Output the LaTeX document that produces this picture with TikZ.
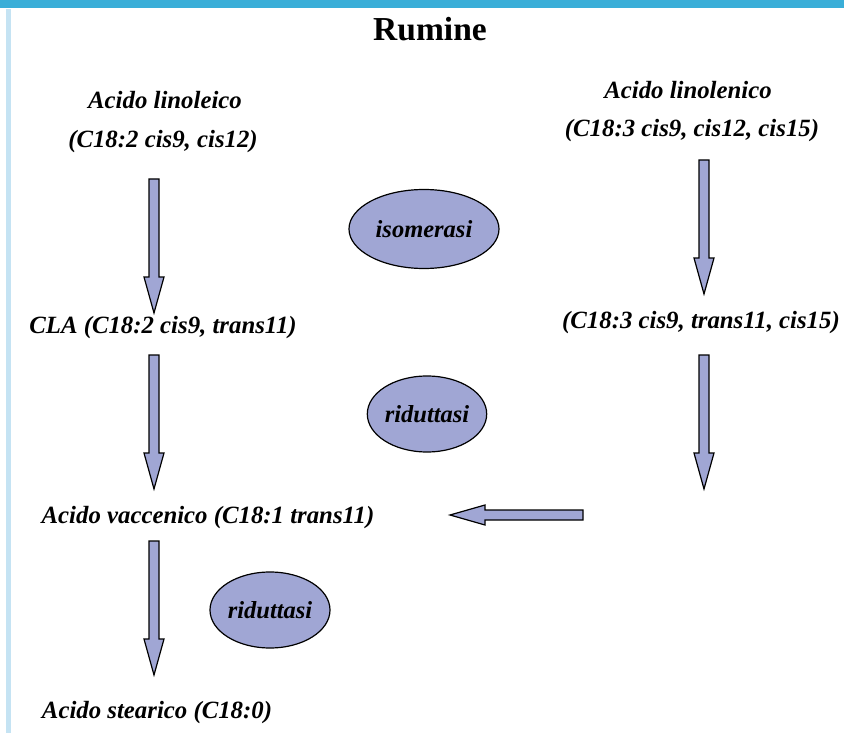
\documentclass[tikz,border=0pt]{standalone}
\usepackage{fontspec}
\setmainfont{Liberation Serif}
\usetikzlibrary{shapes.geometric}
\definecolor{topbar}{HTML}{3AAED8}
\definecolor{sidebar}{HTML}{C5E3F3}
\definecolor{lav}{HTML}{A0A6D4}
\tikzset{
  lbl/.style={font=\fontsize{24.8}{28}\selectfont\bfseries\itshape, inner sep=0pt},
  enz/.style={ellipse, draw=black, line width=1.2pt, fill=lav, font=\fontsize{24.5}{28}\selectfont\bfseries\itshape, inner sep=0pt},
  blk/.style={draw=black, line width=1.2pt, fill=lav, line join=miter}
}
% down block arrow: x, ytop, ybottom
\newcommand\flowdown[3]{%
  \draw[blk] (#1-5,#2) -- (#1+5,#2) -- (#1+5,#3-36) -- (#1+10,#3-36) -- (#1,#3) -- (#1-10,#3-36) -- (#1-5,#3-36) -- cycle;}
\begin{document}
\begin{tikzpicture}[x=1pt,y=-1pt]
\useasboundingbox (0,0) rectangle (844,733);
\fill[white] (0,0) rectangle (844,733);
\fill[topbar] (0,0) rectangle (844,8);
\fill[sidebar] (6,9) rectangle (11,733);
\node[font=\fontsize{33.5}{38}\selectfont\bfseries, inner sep=0pt] (title) at (430,29) {Rumine};

\node[lbl] (lin) at (165,100) {Acido linoleico};
\node[lbl] (linf) at (163,142) {(C18:2 cis9, cis12)};
\node[lbl] (lnn) at (688,90) {Acido linolenico};
\node[lbl] (lnnf) at (692,131) {(C18:3 cis9, cis12, cis15)};
\node[lbl] (cla) at (163,328) {CLA (C18:2 cis9, trans11)};
\node[lbl] (c183) at (701,323) {(C18:3 cis9, trans11, cis15)};
\node[lbl] (vac) at (208,518) {Acido vaccenico (C18:1 trans11)};
\node[lbl] (ste) at (157,713) {Acido stearico (C18:0)};

\node[enz, minimum width=150pt, minimum height=79pt] (iso) at (424,229) {isomerasi};
\node[enz, minimum width=116pt, minimum height=76pt] (rid1) at (427,414) {riduttasi};
\node[enz, minimum width=120pt, minimum height=76pt] (rid2) at (270,610) {riduttasi};

\flowdown{154}{179}{313}
\flowdown{154}{355}{489}
\flowdown{154}{541}{675}
\flowdown{704}{160}{294}
\flowdown{704}{355}{489}
\draw[blk] (583,510) -- (583,520) -- (485,520) -- (485,525) -- (450,515) -- (485,505) -- (485,510) -- cycle;
\end{tikzpicture}
\end{document}
